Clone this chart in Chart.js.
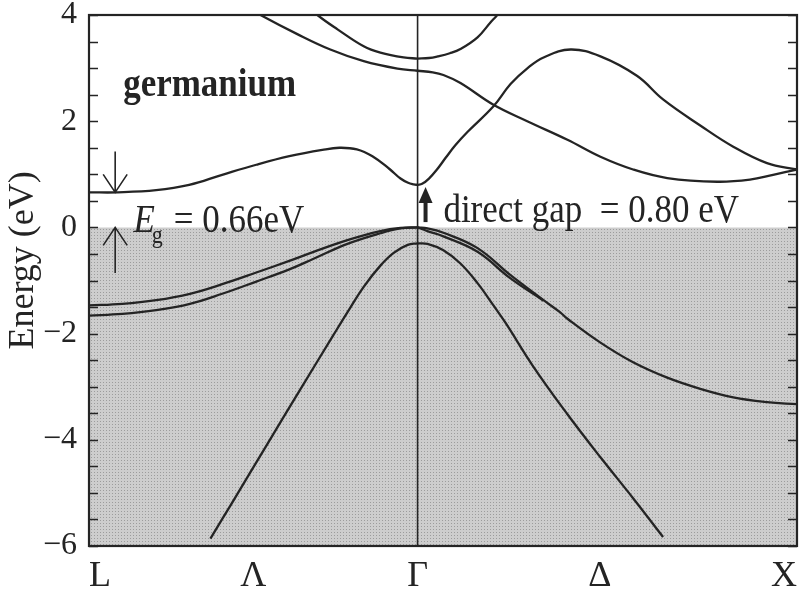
<!DOCTYPE html>
<html>
<head>
<meta charset="utf-8">
<title>germanium band structure</title>
<script src="https://cdn.jsdelivr.net/npm/chart.js"></script>
<style>
  html, body { margin: 0; padding: 0; background: #ffffff; }
  canvas { display: block; }
</style>
</head>
<body>
<canvas id="bands" width="806" height="595"></canvas>
<script>
// k along L - Gamma - X in units of 2*pi/a (L at -sqrt(3)/2)
const kMin = -0.866;
const kMax = 1;
const kTickPos = [-0.866, -0.433, 0, 0.48, 1];
const kTickNames = ['L', 'Λ', 'Γ', 'Δ', 'X'];

// energy axis (eV)
const eMin = -6;
const eMax = 4;
const eStep = 0.5;

// conduction bands, Lambda branch (L -> Gamma)
const cbLowLamK = [-0.866, -0.79, -0.689, -0.602, -0.515, -0.425, -0.338, -0.251, -0.206, -0.16, -0.119, -0.074, -0.045, -0.025, -0.01, 0];
const cbLowLamE = [0.66, 0.66, 0.70, 0.80, 0.99, 1.18, 1.34, 1.46, 1.50, 1.47, 1.34, 1.10, 0.92, 0.84, 0.81, 0.80];
const cbMidLamK = [-0.44, -0.414, -0.317, -0.23, -0.142, -0.053, 0];
const cbMidLamE = [4.12, 4.0, 3.64, 3.35, 3.13, 2.99, 2.95];
const cbTopLamK = [-0.285, -0.264, -0.211, -0.142, -0.098, -0.037, 0];
const cbTopLamE = [4.15, 4.0, 3.73, 3.41, 3.29, 3.20, 3.18];

// conduction bands, Delta branch (Gamma -> X)
const cbLowDelK = [0, 0.012, 0.03, 0.05, 0.075, 0.1, 0.132, 0.2, 0.245, 0.29, 0.332, 0.403, 0.482, 0.579, 0.647, 0.745, 0.832, 0.921, 1];
const cbLowDelE = [0.80, 0.82, 0.92, 1.08, 1.32, 1.55, 1.80, 2.28, 2.70, 3.00, 3.20, 3.35, 3.22, 2.85, 2.41, 1.92, 1.52, 1.21, 1.09];
const cbMidDelK = [0, 0.04, 0.068, 0.113, 0.2, 0.289, 0.395, 0.482, 0.568, 0.658, 0.79, 0.876, 0.937, 1];
const cbMidDelE = [2.95, 2.92, 2.87, 2.72, 2.31, 2.00, 1.65, 1.33, 1.09, 0.93, 0.86, 0.90, 0.99, 1.09];
const cbTopDelK = [0, 0.03, 0.053, 0.085, 0.113, 0.158, 0.192, 0.21, 0.23];
const cbTopDelE = [3.18, 3.19, 3.22, 3.28, 3.36, 3.58, 3.86, 4.0, 4.2];

// valence bands, Lambda branch
const vbHeavyLamK = [-0.866, -0.778, -0.689, -0.6, -0.515, -0.425, -0.338, -0.274, -0.185, -0.098, -0.045, 0];
const vbHeavyLamE = [-1.47, -1.44, -1.37, -1.25, -1.07, -0.85, -0.63, -0.46, -0.24, -0.07, -0.01, 0];
const vbLightLamK = [-0.866, -0.778, -0.689, -0.6, -0.515, -0.425, -0.338, -0.274, -0.185, -0.098, -0.045, 0];
const vbLightLamE = [-1.66, -1.63, -1.56, -1.44, -1.25, -1.02, -0.79, -0.59, -0.31, -0.11, -0.02, 0];
const vbSplitLamK = [-0.546, -0.485, -0.396, -0.309, -0.222, -0.185, -0.142, -0.098, -0.063, -0.026, 0];
const vbSplitLamE = [-5.86, -5.14, -4.08, -3.05, -2.03, -1.60, -1.12, -0.72, -0.48, -0.33, -0.30];

// valence bands, Delta branch
const vbHeavyDelK = [0, 0.026, 0.068, 0.158, 0.245, 0.332, 0.376, 0.395, 0.482, 0.568, 0.658, 0.745, 0.832, 0.921, 1];
const vbHeavyDelE = [0, -0.02, -0.10, -0.39, -0.90, -1.37, -1.60, -1.72, -2.17, -2.54, -2.83, -3.04, -3.20, -3.29, -3.33];
const vbLightDelK = [0, 0.026, 0.068, 0.158, 0.245, 0.332];
const vbLightDelE = [0, -0.07, -0.17, -0.46, -0.96, -1.38];
const vbSplitDelK = [0, 0.026, 0.068, 0.113, 0.158, 0.2, 0.232, 0.305, 0.393, 0.482, 0.568, 0.647];
const vbSplitDelE = [-0.30, -0.31, -0.43, -0.68, -1.05, -1.47, -1.80, -2.62, -3.50, -4.33, -5.10, -5.83];

// filled valence region and the Gamma line
const valenceTopK = [kMin, kMax];
const valenceTopE = [0, 0];
const gammaK = [0, 0];
const gammaE = [eMin, eMax];

// gaps written on the plot
const gapL = 0.66;
const gapDirect = 0.80;

const INK = '#242424';
const SERIF = '"Liberation Serif", "Times New Roman", serif';

const canvas = document.getElementById('bands');

// dotted grey screen for the occupied states
function stipple() {
  const tile = document.createElement('canvas');
  tile.width = 3;
  tile.height = 3;
  const g = tile.getContext('2d');
  g.fillStyle = '#cdcdcd';
  g.fillRect(0, 0, 3, 3);
  g.fillStyle = '#9c9c9c';
  g.fillRect(1, 1, 1, 1);
  return canvas.getContext('2d').createPattern(tile, 'repeat');
}

function points(k, e) {
  return k.map((v, i) => ({ x: v, y: e[i] }));
}

function band(k, e) {
  return {
    data: points(k, e),
    borderColor: INK,
    borderWidth: 2.3,
    pointRadius: 0,
    fill: false,
    tension: 0.4,
    order: 1
  };
}

// printed labels come out a little taller than the font
function stretchedText(ctx, text, x, y, font) {
  ctx.save();
  ctx.font = font;
  ctx.translate(x, y);
  ctx.scale(1, 1.15);
  ctx.fillText(text, 0, 0);
  const w = ctx.measureText(text).width;
  ctx.restore();
  return w;
}

function openArrow(ctx, x, yFrom, yTo) {
  const dir = yTo > yFrom ? 1 : -1;
  ctx.beginPath();
  ctx.moveTo(x, yFrom);
  ctx.lineTo(x, yTo);
  ctx.moveTo(x - 12, yTo - dir * 18);
  ctx.lineTo(x, yTo);
  ctx.lineTo(x + 12, yTo - dir * 18);
  ctx.stroke();
}

const bandOverlay = {
  id: 'bandOverlay',
  afterDatasetsDraw(chart) {
    const { ctx, chartArea: a, scales: { x, y } } = chart;
    ctx.save();
    ctx.strokeStyle = INK;
    ctx.fillStyle = INK;

    // inward ticks on both energy axes
    ctx.lineWidth = 1.5;
    y.ticks.forEach(t => {
      const py = Math.round(y.getPixelForValue(t.value)) + 0.5;
      ctx.beginPath();
      ctx.moveTo(a.left, py);
      ctx.lineTo(a.left + 9, py);
      ctx.moveTo(a.right, py);
      ctx.lineTo(a.right - 9, py);
      ctx.stroke();
    });

    // frame
    ctx.lineWidth = 2.2;
    ctx.strokeRect(a.left, a.top, a.right - a.left, a.bottom - a.top);

    // axis title, sitting a bit above the middle of the axis
    ctx.save();
    ctx.translate(24, y.getPixelForValue(-0.62));
    ctx.rotate(-Math.PI / 2);
    ctx.textAlign = 'center';
    ctx.textBaseline = 'middle';
    ctx.font = '36px ' + SERIF;
    ctx.fillText('Energy (eV)', 0, 0);
    ctx.restore();

    // material name
    ctx.textAlign = 'left';
    ctx.textBaseline = 'alphabetic';
    stretchedText(ctx, 'germanium', x.getPixelForValue(-0.776), y.getPixelForValue(2.47), 'bold 35px ' + SERIF);

    // indirect gap at L
    const xa = x.getPixelForValue(-0.797);
    ctx.lineWidth = 1.6;
    openArrow(ctx, xa, y.getPixelForValue(1.43), y.getPixelForValue(gapL));
    openArrow(ctx, xa, y.getPixelForValue(-0.86), y.getPixelForValue(0));

    let tx = x.getPixelForValue(-0.749);
    const ty = y.getPixelForValue(-0.09);
    tx += stretchedText(ctx, 'E', tx, ty, 'italic 35px ' + SERIF) - 3;
    tx += stretchedText(ctx, 'g', tx, ty + 11, '22px ' + SERIF) + 11;
    stretchedText(ctx, '= ' + gapL.toFixed(2) + 'eV', tx, ty, '35px ' + SERIF);

    // direct gap at Gamma
    const xg = x.getPixelForValue(0.021);
    const yTip = y.getPixelForValue(gapDirect - 0.04);
    const yTail = y.getPixelForValue(0.1);
    ctx.lineWidth = 4;
    ctx.beginPath();
    ctx.moveTo(xg, yTail);
    ctx.lineTo(xg, yTip + 12);
    ctx.stroke();
    ctx.beginPath();
    ctx.moveTo(xg, yTip);
    ctx.lineTo(xg - 7, yTip + 16);
    ctx.lineTo(xg + 7, yTip + 16);
    ctx.closePath();
    ctx.fill();
    stretchedText(ctx, 'direct gap  = ' + gapDirect.toFixed(2) + ' eV',
      x.getPixelForValue(0.068), y.getPixelForValue(0.1), '35px ' + SERIF);

    ctx.restore();
  }
};

const datasets = [
  {
    data: points(valenceTopK, valenceTopE),
    borderWidth: 0,
    pointRadius: 0,
    fill: 'start',
    backgroundColor: stipple(),
    order: 10
  },
  band(cbLowLamK, cbLowLamE),
  band(cbMidLamK, cbMidLamE),
  band(cbTopLamK, cbTopLamE),
  band(cbLowDelK, cbLowDelE),
  band(cbMidDelK, cbMidDelE),
  band(cbTopDelK, cbTopDelE),
  band(vbHeavyLamK, vbHeavyLamE),
  band(vbLightLamK, vbLightLamE),
  band(vbSplitLamK, vbSplitLamE),
  band(vbHeavyDelK, vbHeavyDelE),
  band(vbLightDelK, vbLightDelE),
  band(vbSplitDelK, vbSplitDelE),
  {
    data: points(gammaK, gammaE),
    borderColor: INK,
    borderWidth: 1.6,
    pointRadius: 0,
    tension: 0,
    fill: false,
    order: 0
  }
];

new Chart(canvas, {
  type: 'line',
  data: { datasets },
  plugins: [bandOverlay],
  options: {
    responsive: false,
    devicePixelRatio: 1,
    animation: false,
    layout: { padding: { top: 15, right: 9, left: 0, bottom: 0 } },
    plugins: {
      legend: { display: false },
      tooltip: { enabled: false }
    },
    scales: {
      x: {
        type: 'linear',
        min: kMin,
        max: kMax,
        grid: { display: false, drawTicks: false },
        border: { display: false },
        afterBuildTicks: scale => {
          scale.ticks = kTickPos.map(v => ({ value: v }));
        },
        afterFit: scale => {
          scale.height = 49;
          scale.paddingLeft = 0;
          scale.paddingRight = 0;
        },
        ticks: {
          autoSkip: false,
          maxRotation: 0,
          align: 'inner',
          padding: 9,
          color: INK,
          font: { family: SERIF, size: 36 },
          callback: (v, i) => kTickNames[i]
        }
      },
      y: {
        min: eMin,
        max: eMax,
        grid: { display: false, drawTicks: false },
        border: { display: false },
        afterFit: scale => {
          scale.width = 89;
          scale.paddingTop = 0;
          scale.paddingBottom = 0;
        },
        ticks: {
          stepSize: eStep,
          autoSkip: false,
          padding: 12,
          color: INK,
          font: { family: SERIF, size: 32 },
          callback: v => (v % 2 === 0 ? (v < 0 ? '\u2212' + Math.abs(v) : String(v)) : '')
        }
      }
    }
  }
});
</script>
</body>
</html>
